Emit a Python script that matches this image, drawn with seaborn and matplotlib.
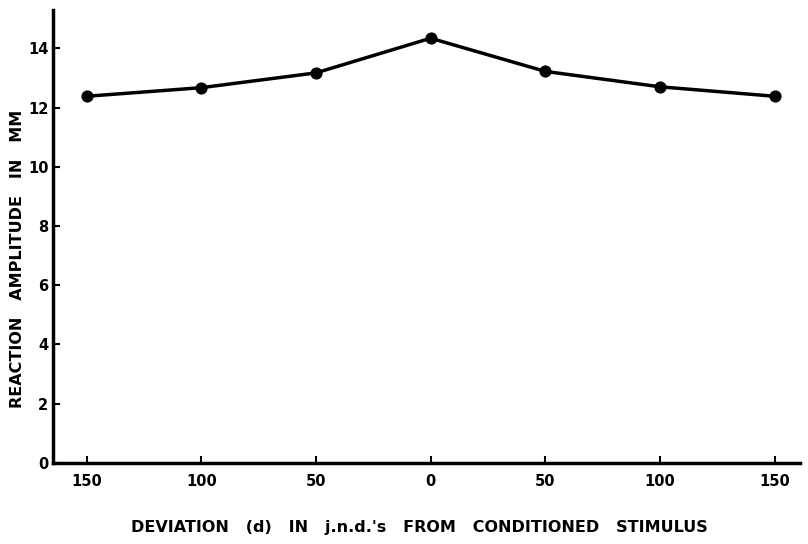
import numpy as np
import pandas as pd
import seaborn as sns
import matplotlib.pyplot as plt

# Deviation positions (-150 .. 150 j.n.d.) and reaction amplitude in mm
deviacao = [-3, -2, -1, 0, 1, 2, 3]
rotulos_x = ['150', '100', '50', '0', '50', '100', '150']
amplitude = [12.38, 12.67, 13.17, 14.34, 13.22, 12.70, 12.38]
ticks_y = [0, 2, 4, 6, 8, 10, 12, 14]

df = pd.DataFrame({'d': deviacao, 'amp': amplitude})

sns.set_style('ticks')
plt.rcParams['font.family'] = ['DejaVu Sans']
plt.rcParams['text.color'] = 'black'
plt.rcParams['axes.labelcolor'] = 'black'
plt.rcParams['xtick.color'] = 'black'
plt.rcParams['ytick.color'] = 'black'
plt.rcParams['axes.edgecolor'] = 'black'

fig = plt.figure(figsize=(8.08, 5.44), dpi=100)
ax = fig.add_axes([0.066, 0.149, 0.924, 0.833])

sns.lineplot(data=df, x='d', y='amp', ax=ax, color='black', linewidth=2.5,
             marker='o', markersize=8, markeredgecolor='black')

ax.set_xlim(-3.29, 3.22)
ax.set_ylim(0, 15.3)
ax.set_xticks(deviacao)
ax.set_xticklabels(rotulos_x)
ax.set_yticks(ticks_y)
sns.despine(ax=ax)
for s in ['left', 'bottom']:
    ax.spines[s].set_linewidth(2.5)
ax.tick_params(direction='in', length=5, width=1.5, labelsize=10.5)
ax.tick_params(axis='x', pad=8)
for t in ax.get_xticklabels() + ax.get_yticklabels():
    t.set_fontweight('bold')

ax.set_xlabel('DEVIATION   (d)   IN   j.n.d.\'s   FROM   CONDITIONED   STIMULUS',
              fontsize=11.5, fontweight='bold')
ax.set_ylabel('REACTION   AMPLITUDE   IN   MM', fontsize=11.5, fontweight='bold')
ax.xaxis.set_label_coords(0.49, -0.125)
ax.yaxis.set_label_coords(-0.038, 0.45)

plt.savefig('out.png', dpi=100)
